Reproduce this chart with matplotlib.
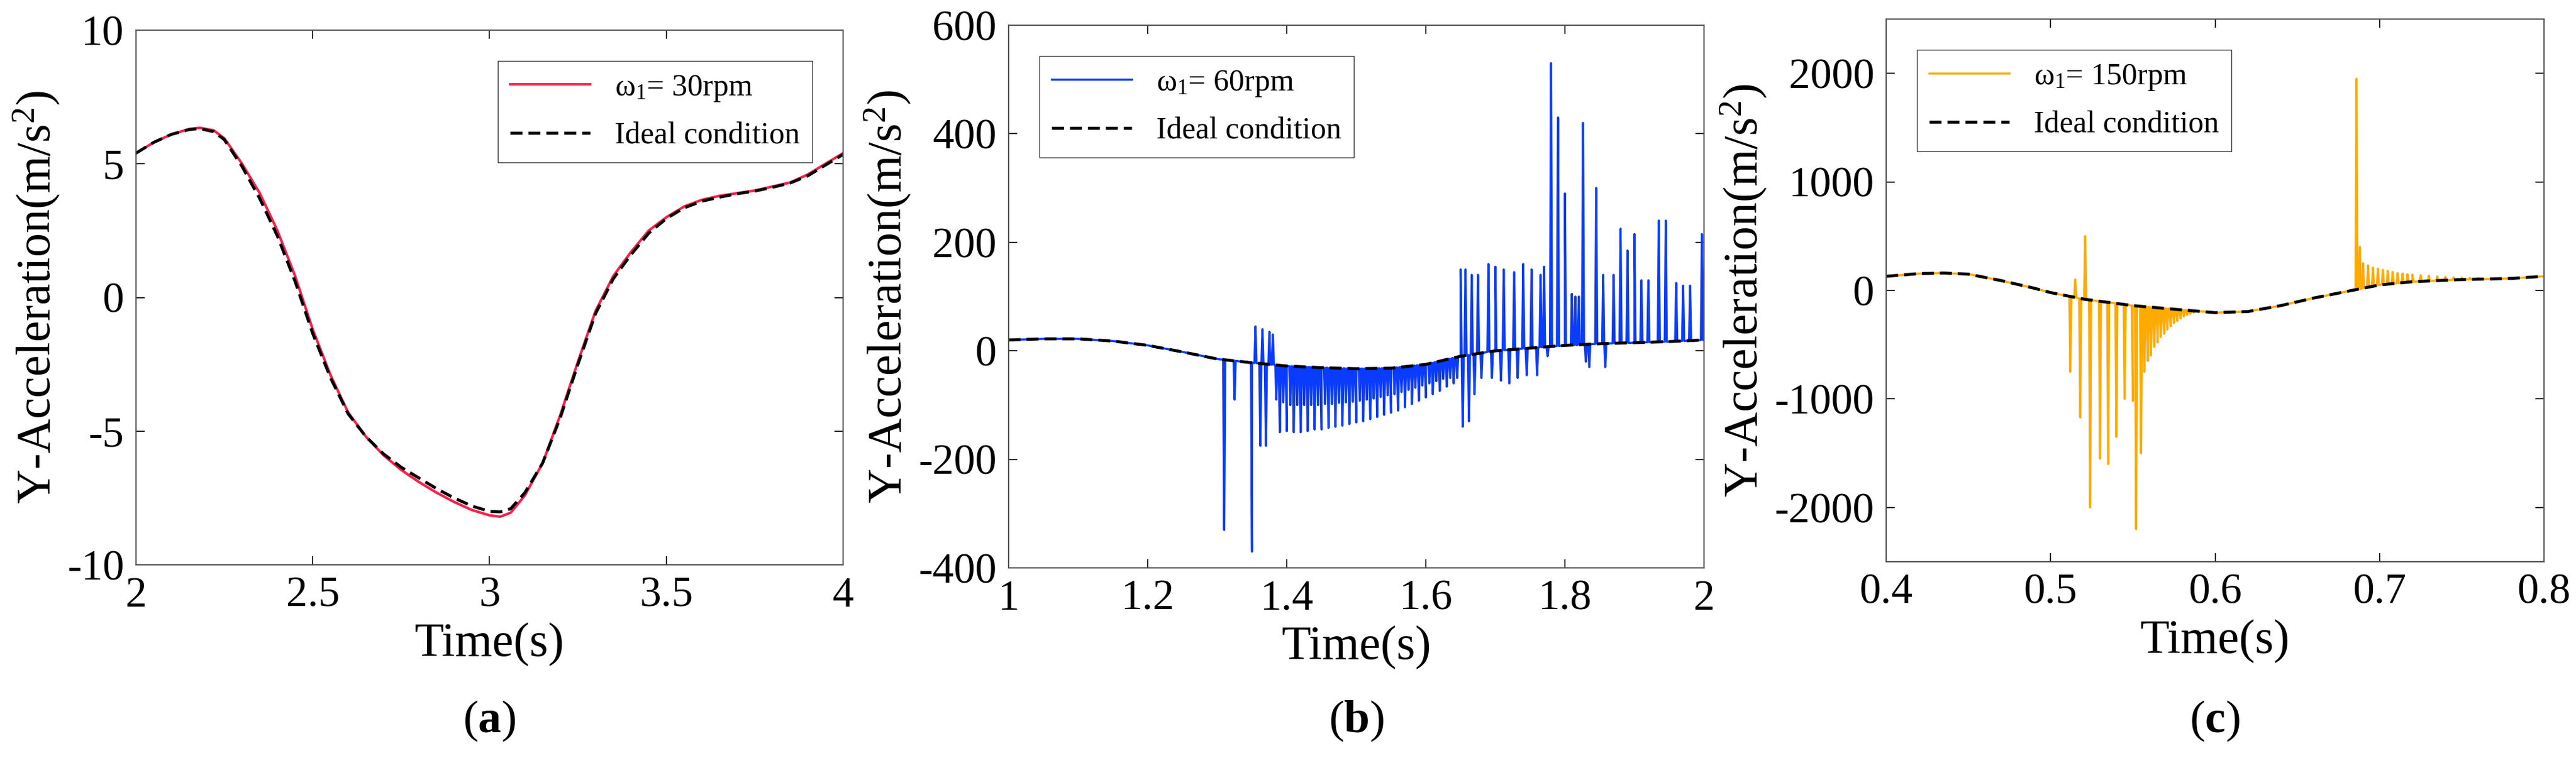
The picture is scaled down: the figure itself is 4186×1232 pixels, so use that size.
import numpy as np
import matplotlib
matplotlib.use("Agg")
import matplotlib.pyplot as plt

plt.rcParams["font.family"] = "Liberation Serif"
plt.rcParams["mathtext.fontset"] = "custom"
plt.rcParams["mathtext.rm"] = "Liberation Serif"
plt.rcParams["mathtext.it"] = "Liberation Serif:italic"
plt.rcParams["mathtext.bf"] = "Liberation Serif:bold"
plt.rcParams["axes.unicode_minus"] = False

# ---------------- Panel (a) ----------------
a_t = [2.0, 2.05, 2.1, 2.15, 2.18, 2.22, 2.25, 2.3, 2.35, 2.4, 2.45, 2.5, 2.55, 2.6, 2.65, 2.7, 2.75,
       2.8, 2.85, 2.9, 2.95, 3.0, 3.03, 3.06, 3.1, 3.15, 3.2, 3.25, 3.3, 3.35, 3.4, 3.45, 3.5, 3.55,
       3.6, 3.65, 3.7, 3.75, 3.8, 3.85, 3.9, 3.95, 4.0]
a_real = [5.4, 5.8, 6.1, 6.3, 6.35, 6.25, 5.95, 5.0, 3.9, 2.5, 0.8, -1.2, -2.9, -4.3, -5.2, -5.9, -6.45,
          -6.9, -7.3, -7.65, -7.95, -8.15, -8.2, -8.05, -7.4, -6.2, -4.4, -2.4, -0.5, 0.8, 1.7, 2.5, 3.0, 3.4,
          3.65, 3.8, 3.9, 4.0, 4.15, 4.3, 4.6, 5.0, 5.4]
a_ideal = [5.4, 5.8, 6.1, 6.28, 6.32, 6.2, 5.9, 4.9, 3.7, 2.3, 0.6, -1.35, -3.0, -4.35, -5.2, -5.85, -6.35,
           -6.75, -7.15, -7.5, -7.8, -8.0, -8.02, -7.9, -7.3, -6.2, -4.5, -2.5, -0.6, 0.7, 1.6, 2.4, 2.95, 3.35,
           3.6, 3.75, 3.88, 3.98, 4.12, 4.28, 4.55, 4.95, 5.35]

# ---------------- Panel (b) ----------------
b_t = [1.0, 1.05, 1.1, 1.15, 1.2, 1.25, 1.3, 1.35, 1.4, 1.45, 1.5, 1.55, 1.6, 1.65, 1.7, 1.75, 1.8, 1.85, 1.9, 1.95, 2.0]
b_ideal = [20, 22, 22, 18, 10, -2, -15, -22, -28, -31, -33, -32, -25, -10, 0, 5, 10, 13, 15, 17, 20]
b_spike_t = [1.310, 1.325, 1.343, 1.350, 1.355, 1.362, 1.365, 1.370, 1.375, 1.380, 1.385,
             1.650, 1.653, 1.657, 1.662, 1.666, 1.670, 1.675, 1.680, 1.690, 1.695, 1.700, 1.708, 1.712,
             1.720, 1.727, 1.732, 1.740, 1.745, 1.752, 1.760, 1.765, 1.770, 1.775, 1.780, 1.790, 1.800,
             1.810, 1.815, 1.820, 1.826, 1.830, 1.835, 1.845, 1.855, 1.858, 1.870, 1.880, 1.890, 1.900,
             1.910, 1.920, 1.935, 1.945, 1.960, 1.970, 1.980, 1.997]
b_spike_v = [-330, -90, -20, -370, 45, -175, 40, -175, 35, 30, -90,
             150, -140, 150, -130, 140, -80, 140, -50, 160, -50, 155, -55, 150,
             -60, 145, -50, 160, -45, 150, -45, 140, 155, -10, 530, 430, 290,
             105, 100, 100, 420, -20, -30, 300, 140, -30, 140, 225, 185, 215,
             130, 130, 240, 240, 125, 120, 120, 215]
b_band_t = [1.390, 1.395, 1.400, 1.405, 1.410, 1.415, 1.420, 1.425, 1.430, 1.435, 1.440, 1.445, 1.450,
            1.455, 1.460, 1.465, 1.470, 1.475, 1.480, 1.485, 1.490, 1.495, 1.500, 1.505, 1.510, 1.515,
            1.520, 1.525, 1.530, 1.535, 1.540, 1.545, 1.550, 1.555, 1.560, 1.565, 1.570, 1.575, 1.580,
            1.585, 1.590, 1.595, 1.600, 1.605, 1.610, 1.615, 1.620, 1.625, 1.630, 1.635, 1.640, 1.645]
b_band_v = [-150, -95, -148, -100, -150, -100, -150, -100, -148, -100, -145, -100, -145,
            -98, -142, -98, -140, -96, -138, -95, -135, -94, -132, -92, -130, -90,
            -126, -88, -122, -85, -118, -82, -114, -80, -110, -76, -104, -72, -98,
            -68, -92, -64, -86, -60, -80, -56, -74, -52, -66, -50, -60, -50]

# ---------------- Panel (c) ----------------
c_t = [0.40, 0.42, 0.435, 0.45, 0.47, 0.49, 0.50, 0.52, 0.55, 0.58, 0.60, 0.62, 0.64, 0.66, 0.68, 0.70, 0.72, 0.75, 0.78, 0.80]
c_ideal = [130, 155, 160, 150, 90, 20, -20, -80, -140, -180, -205, -195, -140, -70, -10, 50, 80, 100, 110, 130]
c_spike_t = [0.512, 0.515, 0.518, 0.521, 0.524, 0.530, 0.535, 0.540, 0.545, 0.550, 0.552, 0.555,
             0.686, 0.688]
c_spike_v = [-750, 100, -1170, 500, -2000, -1550, -1600, -1350, -1000, -1020, -2200, -1500,
             1950, 400]
c_band_t = [0.557, 0.559, 0.561, 0.563, 0.565, 0.567, 0.569, 0.571, 0.573, 0.575, 0.577, 0.579,
            0.581, 0.583, 0.585, 0.587,
            0.690, 0.693, 0.696, 0.699, 0.702, 0.705, 0.708, 0.711, 0.714, 0.717, 0.720, 0.725,
            0.730, 0.735, 0.740, 0.745, 0.750, 0.755, 0.760]
c_band_v = [-750, -650, -600, -520, -480, -430, -400, -360, -330, -300, -280, -260,
            -240, -225, -215, -205,
            250, 230, 210, 200, 190, 180, 170, 160, 155, 150, 145, 140,
            135, 130, 125, 120, 118, 115, 112]


def build(t_base, y_base, spk_t, spk_v, band_t, band_v, d=0.0008):
    pts = []
    for t, v in zip(list(spk_t) + list(band_t), list(spk_v) + list(band_v)):
        b = np.interp(t, t_base, y_base)
        pts += [(t - d, b), (t, v), (t + d, b)]
    for t, y in zip(t_base, y_base):
        pts.append((t, y))
    pts.sort()
    arr = np.array(pts)
    return arr[:, 0], arr[:, 1]


fig = plt.figure(figsize=(41.86, 12.32), dpi=100)
W, H = 4186, 1232
def ax_at(l, r, t, b):
    return fig.add_axes([l / W, 1 - b / H, (r - l) / W, (b - t) / H])

tick_fs = 50
lab_fs = 56
leg_fs = 36

axes = [ax_at(221, 1370, 49, 918), ax_at(1639, 2769, 41, 923), ax_at(3065, 4134, 31, 913)]
leg_kw = dict(fontsize=leg_fs, frameon=True, fancybox=False, edgecolor="black",
              handlelength=2.6, borderaxespad=1.0, labelspacing=0.6)

# (a)
ax = axes[0]
ax.plot(a_t, a_real, color="#ff1f4b", lw=3, label=r"ω$_1$= 30rpm")
ax.plot(a_t, a_ideal, "k--", lw=3.5, dashes=(4, 2), label="Ideal condition")
ax.set_xlim(2, 4); ax.set_ylim(-10, 10)
ax.set_xticks([2, 2.5, 3, 3.5, 4]); ax.set_xticklabels(["2", "2.5", "3", "3.5", "4"])
ax.set_yticks([-10, -5, 0, 5, 10])
ax.legend(loc="upper right", **leg_kw)

# (b)
ax = axes[1]
bx, by = build(b_t, b_ideal, b_spike_t, b_spike_v, b_band_t, b_band_v, d=0.0015)
ax.plot(bx, by, color="#0a3cff", lw=2.5, label=r"ω$_1$= 60rpm")
ax.plot(b_t, b_ideal, "k--", lw=3.5, dashes=(4, 2), label="Ideal condition")
ax.set_xlim(1, 2); ax.set_ylim(-400, 600)
ax.set_xticks([1, 1.2, 1.4, 1.6, 1.8, 2]); ax.set_xticklabels(["1", "1.2", "1.4", "1.6", "1.8", "2"])
ax.set_yticks([-400, -200, 0, 200, 400, 600])
ax.legend(loc="upper left", **leg_kw)

# (c)
ax = axes[2]
cx, cy = build(c_t, c_ideal, c_spike_t, c_spike_v, c_band_t, c_band_v, d=0.0006)
ax.plot(cx, cy, color="#ffaa00", lw=2.5, label=r"ω$_1$= 150rpm")
ax.plot(c_t, c_ideal, "k--", lw=3.5, dashes=(4, 2), label="Ideal condition")
ax.set_xlim(0.4, 0.8); ax.set_ylim(-2500, 2500)
ax.set_xticks([0.4, 0.5, 0.6, 0.7, 0.8])
ax.set_yticks([-2000, -1000, 0, 1000, 2000])
ax.legend(loc="upper left", **leg_kw)

for ax, lab in zip(axes, ["a", "b", "c"]):
    ax.tick_params(direction="in", labelsize=tick_fs, length=10, width=1.2, top=True, right=True, pad=14)
    ax.set_xlabel("Time(s)", fontsize=lab_fs, labelpad=8)
    ax.set_ylabel(r"Y-Acceleration(m/s$^2$)", fontsize=lab_fs, labelpad=6)
    for s in ax.spines.values():
        s.set_color("#555555"); s.set_linewidth(1.5)
    xc = ax.get_position().x0 + ax.get_position().width / 2
    fig.text(xc, 1 - 1172 / H, "($\\mathbf{%s}$)" % lab, fontsize=54, ha="center", va="center")

fig.savefig("out.png", dpi=100)
